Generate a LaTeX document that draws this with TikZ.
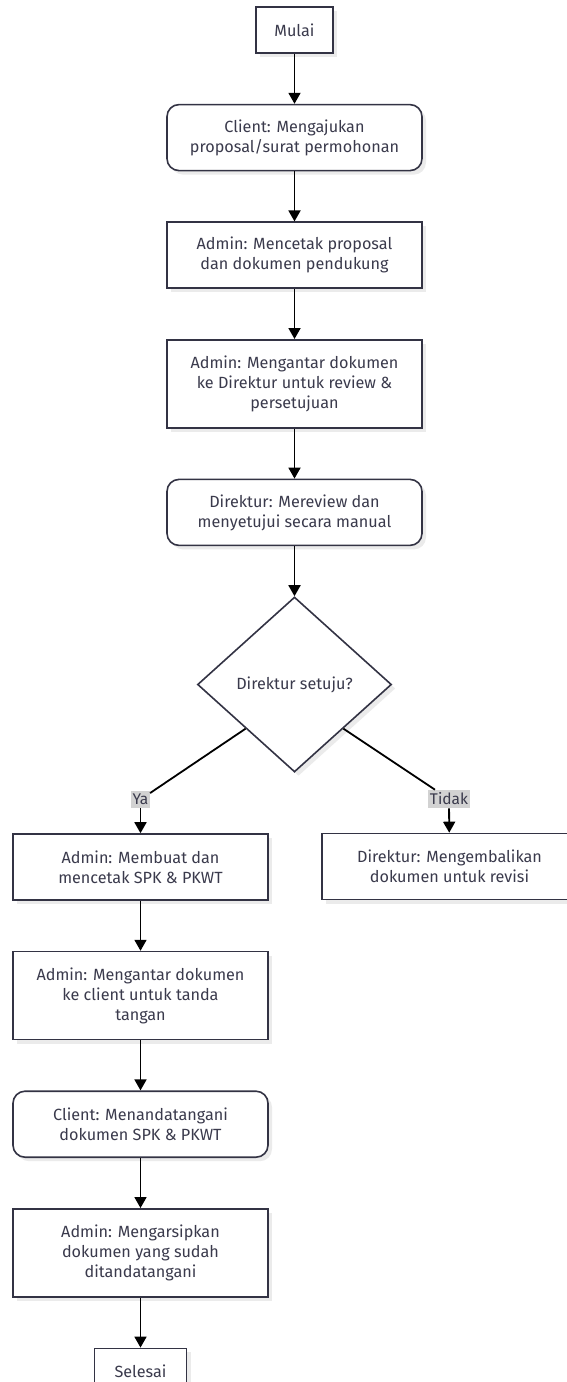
\documentclass[tikz,border=0pt]{standalone}
\usepackage{fontspec}
\setmainfont{Fira Sans}
\usetikzlibrary{shapes.geometric, positioning, arrows.meta, shadows}
\definecolor{boxline}{HTML}{333344}
\definecolor{boxtext}{HTML}{3A3A4C}
\definecolor{labelbg}{HTML}{D2D2D2}
\tikzset{
>={Triangle[width=12pt,length=11pt]}, % filled arrow heads
flow/.style={->, line width=1.8pt, black}, % connectors between steps
node distance=50pt, % gap between two boxes
every node/.style={font=\fontsize{16.2}{20}\selectfont, text=boxtext},
base/.style={draw=boxline, line width=1.6pt, fill=white, align=center,
  drop shadow={shadow xshift=4pt, shadow yshift=-4pt, fill=black!8, opacity=1}},
proc/.style={base, rectangle, minimum width=255pt, minimum height=66pt}, % plain step
act/.style={proc, rounded corners=12pt}, % step of the client / direktur
term/.style={base, rectangle, minimum height=46pt, inner xsep=12pt}, % start and end
decide/.style={base, diamond, minimum width=194pt, minimum height=175pt, inner sep=0pt},
lbl/.style={fill=labelbg, inner xsep=1.5pt, inner ysep=3pt, font=\fontsize{15.5}{17}\selectfont},
}
\begin{document}
\begin{tikzpicture}[x=1pt, y=-1pt]
\useasboundingbox (0,0) rectangle (567,1382);
% main column
\node[term, minimum width=77pt] (mulai) at (294.5,30) {Mulai};
\node[act, below=of mulai] (ajukan) {Client: Mengajukan\\proposal/surat permohonan};
\node[proc, below=of ajukan] (cetak) {Admin: Mencetak proposal\\dan dokumen pendukung};
\node[proc, minimum height=88pt, below=of cetak] (antar) {Admin: Mengantar dokumen\\ke Direktur untuk review \&\\persetujuan};
\node[act, below=of antar] (review) {Direktur: Mereview dan\\menyetujui secara manual};
\node[decide, below=of review] (cek) {Direktur setuju?};
% branches
\node[lbl] (ya) at (140.5,799.5) {Ya};
\node[lbl] (tidak) at (449,799) {Tidak};
\node[proc] (buat) at (140.5,867) {Admin: Membuat dan\\mencetak SPK \& PKWT};
\node[proc] (kembali) at (449.5,866.5) {Direktur: Mengembalikan\\dokumen untuk revisi};
% left column
\node[proc, minimum height=88pt, below=of buat] (kirim) {Admin: Mengantar dokumen\\ke client untuk tanda\\tangan};
\node[act, below=of kirim] (ttd) {Client: Menandatangani\\dokumen SPK \& PKWT};
\node[proc, minimum height=88pt, below=of ttd] (arsip) {Admin: Mengarsipkan\\dokumen yang sudah\\ditandatangani};
\node[term, minimum width=92pt, below=of arsip] (selesai) {Selesai};
\draw[flow] (mulai) edge (ajukan)
  (ajukan) edge (cetak)
  (cetak) edge (antar)
  (antar) edge (review)
  (review) edge (cek)
  (ya) edge (buat)
  (tidak) edge (kembali)
  (buat) edge (kirim)
  (kirim) edge (ttd)
  (ttd) edge (arsip)
  (arsip) edge (selesai);
\draw[line width=1.8pt] (cek.south west) -- (ya);
\draw[line width=1.8pt] (cek.south east) -- (tidak);
\end{tikzpicture}
\end{document}
